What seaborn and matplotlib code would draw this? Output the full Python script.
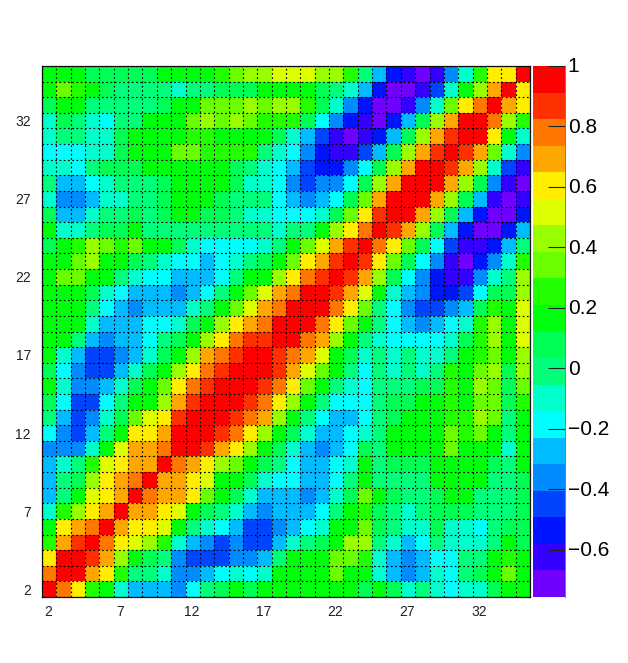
import numpy as np
import matplotlib
matplotlib.use("Agg")
import matplotlib.pyplot as plt
from matplotlib.colors import ListedColormap
from matplotlib.transforms import ScaledTranslation
import seaborn as sns

# Correlation (in hundredths), lower triangle of the symmetric matrix, one row per bin
r02 = [96]
r03 = [78,96]
r04 = [61,96,96]
r05 = [25,69,87,96]
r06 = [17,61,69,78,96]
r07 = [-10,25,43,61,69,96]
r08 = [-27,-1,17,52,61,69,96]
r09 = [-27,-1,8,43,61,69,78,96]
r10 = [-27,-10,-1,25,52,61,69,69,96]
r11 = [-36,-36,-36,-10,17,52,69,69,78,96]
r12 = [-19,-36,-45,-27,-1,17,61,61,69,96,96]
r13 = [-1,-27,-45,-36,-10,8,34,52,61,87,96,96]
r14 = [8,-19,-45,-45,-19,-1,17,17,43,69,87,96,96]
r15 = [17,-10,-36,-36,-27,-10,8,17,34,61,78,87,96,96]
r16 = [8,-19,-36,-45,-45,-27,-10,8,17,43,61,78,87,96,96]
r17 = [17,-10,-27,-45,-45,-36,-27,-10,8,17,43,69,78,87,96,96]
r18 = [17,17,-1,-27,-36,-27,-27,-19,-1,8,17,43,61,78,87,87,96]
r19 = [17,17,17,-10,-27,-27,-27,-19,-19,-10,8,17,43,61,69,78,96,96]
r20 = [17,17,17,-1,-19,-27,-36,-27,-27,-27,-10,-1,17,34,52,69,78,96,96]
r21 = [17,17,17,8,-10,-19,-27,-27,-27,-36,-27,-19,-1,17,34,52,69,78,96,96]
r22 = [17,34,34,17,17,-1,-10,-19,-19,-27,-27,-27,-19,-1,17,17,43,61,78,87,96]
r23 = [17,17,34,43,17,17,8,-1,-10,-19,-19,-27,-19,-10,-1,8,17,34,61,69,87,96]
r24 = [8,17,25,43,34,25,34,17,17,8,-10,-19,-19,-19,-19,-10,-1,17,34,52,69,87,96]
r25 = [17,-10,-10,-1,8,8,17,-1,-1,-1,-1,-1,-1,-1,-1,-1,-10,-1,-1,17,43,61,78,96]
r26 = [8,-27,-27,-10,-1,-1,8,-1,8,17,17,8,8,-1,-10,-10,-19,-19,-19,-10,8,34,61,87,96]
r27 = [-10,-36,-36,-27,-10,-10,-1,-1,8,17,17,17,8,-1,-1,-1,-19,-27,-36,-27,-19,8,34,69,96,96]
r28 = [-1,-27,-27,-19,-10,-1,-1,-1,8,17,17,17,17,8,-10,-10,-19,-36,-45,-36,-36,-19,8,43,69,96,96]
r29 = [-10,-10,-19,-1,8,8,8,17,17,17,17,17,17,8,-1,-10,-19,-27,-45,-54,-54,-36,-19,8,43,69,96,96]
r30 = [-19,-19,-19,-10,-10,8,17,17,17,34,34,25,25,25,25,-1,-10,-19,-36,-54,-62,-62,-45,-27,8,43,69,87,96]
r31 = [-10,-1,-1,-10,-10,8,17,17,17,17,25,25,17,17,17,17,8,-10,-27,-45,-62,-71,-62,-54,-27,8,43,69,87,96]
r32 = [-10,8,-1,-10,-19,-1,-1,17,17,17,34,43,34,43,34,25,25,25,8,-19,-36,-54,-62,-71,-54,-27,8,43,69,96,96]
r33 = [8,17,17,-1,-1,-1,-1,-1,8,17,17,34,34,34,43,34,43,43,25,8,-10,-36,-54,-71,-71,-62,-36,-10,34,61,78,96]
r34 = [17,34,25,17,8,-1,-1,-1,-1,-10,-1,-1,8,8,8,17,17,17,17,8,-1,-10,-27,-54,-71,-71,-62,-45,-10,17,43,69,96]
r35 = [17,17,17,8,8,8,8,8,17,17,17,17,25,34,43,43,52,52,52,43,43,25,-1,-27,-54,-62,-71,-62,-36,-10,25,61,61,96]
rows = [r02,r03,r04,r05,r06,r07,r08,r09,r10,r11,r12,r13,r14,r15,r16,r17,r18,
        r19,r20,r21,r22,r23,r24,r25,r26,r27,r28,r29,r30,r31,r32,r33,r34,r35]
bins = list(range(2, 36))

palette = ["#7000ff","#3300ff","#0014ff","#0044ff","#008cff","#00bbff","#00fffc","#00ffcc",
           "#00ff7a","#00ff55","#00ff0d","#22ff00","#69ff00","#99ff00","#ddff00","#ffee00",
           "#ffa700","#ff7700","#ff3000","#ff0000"]
z_min, z_max = -0.756, 1.0
cbar_ticks = [-0.6,-0.4,-0.2,0,0.2,0.4,0.6,0.8,1]
cbar_labels = ["\u22120.6","\u22120.4","\u22120.2","0","0.2","0.4","0.6","0.8","1"]

n = len(rows)
M = np.zeros((n, n))
for i, row in enumerate(rows):
    for j, v in enumerate(row):
        M[i, j] = v / 100
        M[j, i] = v / 100

plt.rcParams['font.family'] = ['Liberation Sans', 'DejaVu Sans']
W, H = 628, 663
fig = plt.figure(figsize=(W/100, H/100), dpi=100)
ax = fig.add_axes([42/W, 1-597/H, (530-42)/W, (597-66)/H])
cax = fig.add_axes([533/W, 1-597/H, (565-533)/W, (597-66)/H])

sns.heatmap(M, ax=ax, cbar_ax=cax, cmap=ListedColormap(palette), vmin=z_min, vmax=z_max,
            xticklabels=bins, yticklabels=bins, square=False,
            cbar_kws={'ticks': cbar_ticks})
ax.invert_yaxis()

ax.set_xticks([i + 0.5 for i in range(0, n, 5)])
ax.set_xticklabels([str(bins[i]) for i in range(0, n, 5)], rotation=0, fontsize=10, color='#222222')
ax.set_yticks([i + 0.5 for i in range(0, n, 5)])
ax.set_yticklabels([str(bins[i]) for i in range(0, n, 5)], rotation=0, fontsize=10, color='#222222')
ax.tick_params(axis='both', which='major', length=0)
ax.tick_params(axis='x', pad=5.5)
ax.tick_params(axis='y', pad=8)
ax.set_xticks(np.arange(n + 1), minor=True)
ax.set_yticks(np.arange(n + 1), minor=True)
ax.tick_params(axis='both', which='minor', length=0)
ax.grid(which='minor', color='black', linewidth=0.85, linestyle=(0, (1.4, 2.2)))
ax.set_axisbelow(False)
for s in ax.spines.values():
    s.set_visible(True)
    s.set_linewidth(0.9)
    s.set_color('#111111')

px = fig.dpi_scale_trans
for t in ax.get_xticklabels():
    t.set_transform(t.get_transform() + ScaledTranslation(-1/100, 0, px))
for t in ax.get_yticklabels():
    t.set_transform(t.get_transform() + ScaledTranslation(0, -1.5/100, px))

cax.set_yticklabels(cbar_labels)
cax.tick_params(axis='y', direction='in', length=12, width=0.8, color='#222222', labelsize=15, pad=2, right=True, left=False)
cax.tick_params(axis='y', which='minor', length=0)
for t in cax.get_yticklabels():
    t.set_transform(t.get_transform() + ScaledTranslation(0, 1/100, px))
for s in cax.spines.values():
    s.set_visible(False)
cax.spines['right'].set_visible(True)
cax.spines['right'].set_linewidth(0.6)
cax.spines['right'].set_color('#666666')

fig.savefig('out.png', dpi=100)
